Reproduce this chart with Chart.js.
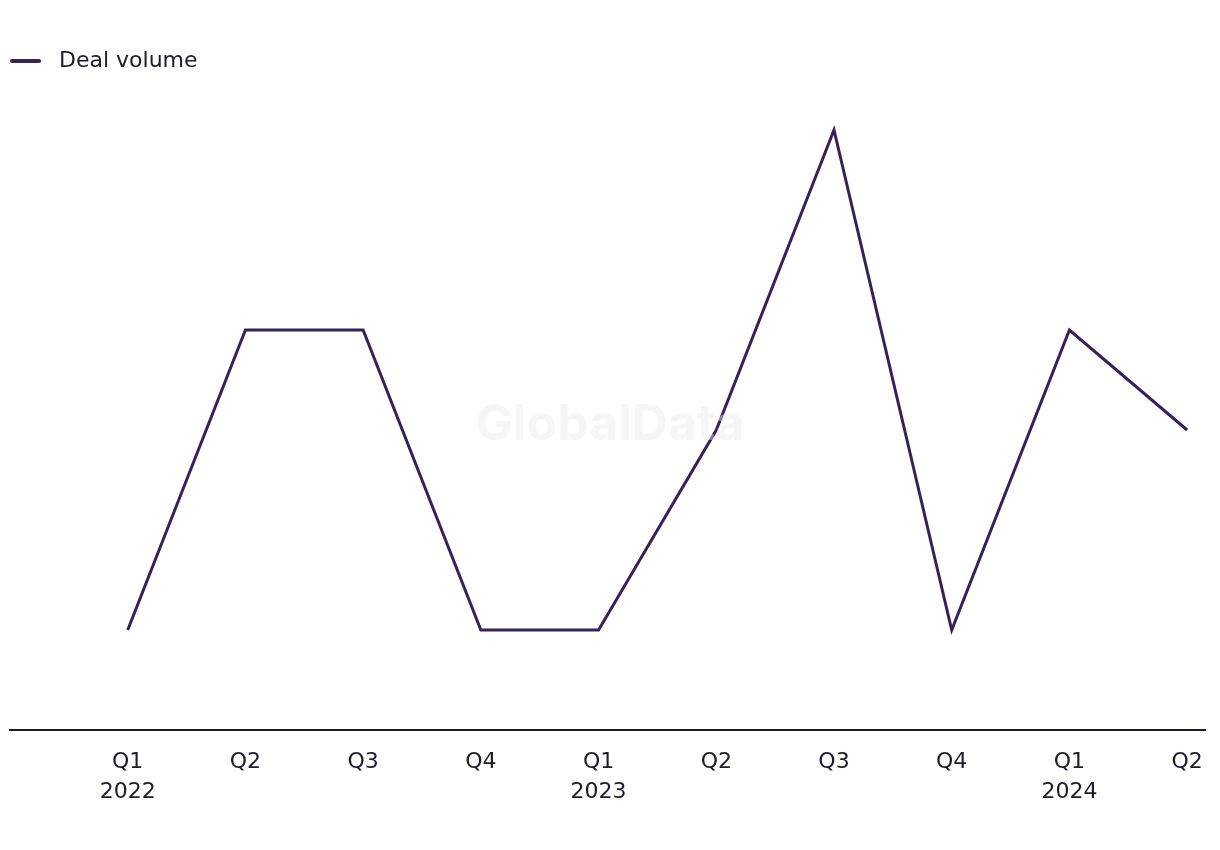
<!DOCTYPE html>
<html>
<head>
<meta charset="utf-8">
<script src="https://cdn.jsdelivr.net/npm/chart.js@4.4.1/dist/chart.umd.min.js"></script>
<style>
html,body{margin:0;padding:0;background:#fff;}
#wrap{width:1220px;height:850px;position:relative;}
</style>
</head>
<body>
<div id="wrap"><canvas id="c" width="1220" height="850"></canvas></div>
<script>
const quarters = ["Q1","Q2","Q3","Q4","Q1","Q2","Q3","Q4","Q1","Q2"];
const years = ["2022","","","","2023","","","","2024",""];
const dealVolume = [1,4,4,1,1,3,6,1,4,3];
const seriesName = "Deal volume";

const LINE_COLOR = '#36215a';
const TEXT_COLOR = '#1c1c2c';
const FONT = '"DejaVu Sans", Inter, sans-serif';

const points = dealVolume.map((v,i)=>({x:i,y:v}));

// legend marker: short thick line with blank space to its right
const marker = document.createElement('canvas');
marker.width = 38; marker.height = 8;
(function(){
  const g = marker.getContext('2d');
  g.strokeStyle = LINE_COLOR;
  g.lineWidth = 4;
  g.lineCap = 'round';
  g.beginPath();
  g.moveTo(2,4); g.lineTo(29,4);
  g.stroke();
})();

const watermark = {
  id:'watermark',
  afterDatasetsDraw(chart){
    const {ctx} = chart;
    ctx.save();
    ctx.font = 'bold 50px Inter, "Liberation Sans", sans-serif';
    ctx.fillStyle = 'rgba(235,235,235,0.45)';
    ctx.textAlign = 'center';
    ctx.textBaseline = 'middle';
    ctx.fillText('GlobalData', 610, 425);
    ctx.restore();
  }
};

new Chart(document.getElementById('c'), {
  type:'line',
  data:{
    datasets:[{
      label:seriesName,
      data:points,
      borderColor:LINE_COLOR,
      backgroundColor:LINE_COLOR,
      borderWidth:3,
      pointRadius:0,
      tension:0,
      fill:false
    }]
  },
  options:{
    responsive:false,
    animation:false,
    layout:{padding:{left:10,right:13,top:50,bottom:26}},
    plugins:{
      legend:{
        display:true,
        position:'top',
        align:'start',
        labels:{
          usePointStyle:true,
          pointStyle:marker,
          pointStyleWidth:38,
          boxHeight:8,
          padding:0,
          color:TEXT_COLOR,
          font:{family:FONT,size:22}
        }
      },
      tooltip:{enabled:false}
    },
    scales:{
      x:{
        type:'linear',
        min:-1,
        max:9.16,
        grid:{display:false,drawTicks:false},
        border:{display:true,color:'#1a1a2e',width:2},
        afterBuildTicks(scale){
          scale.ticks = quarters.map((q,i)=>({value:i}));
        },
        ticks:{
          autoSkip:false,
          maxRotation:0,
          padding:17,
          color:TEXT_COLOR,
          font:{family:FONT,size:22,lineHeight:1.364},
          callback(value){
            const i = Math.round(value);
            if(i<0||i>=quarters.length) return '';
            return years[i] ? [quarters[i], years[i]] : quarters[i];
          }
        }
      },
      y:{
        display:false,
        min:0,
        max:6.48
      }
    }
  },
  plugins:[watermark]
});
</script>
</body>
</html>
